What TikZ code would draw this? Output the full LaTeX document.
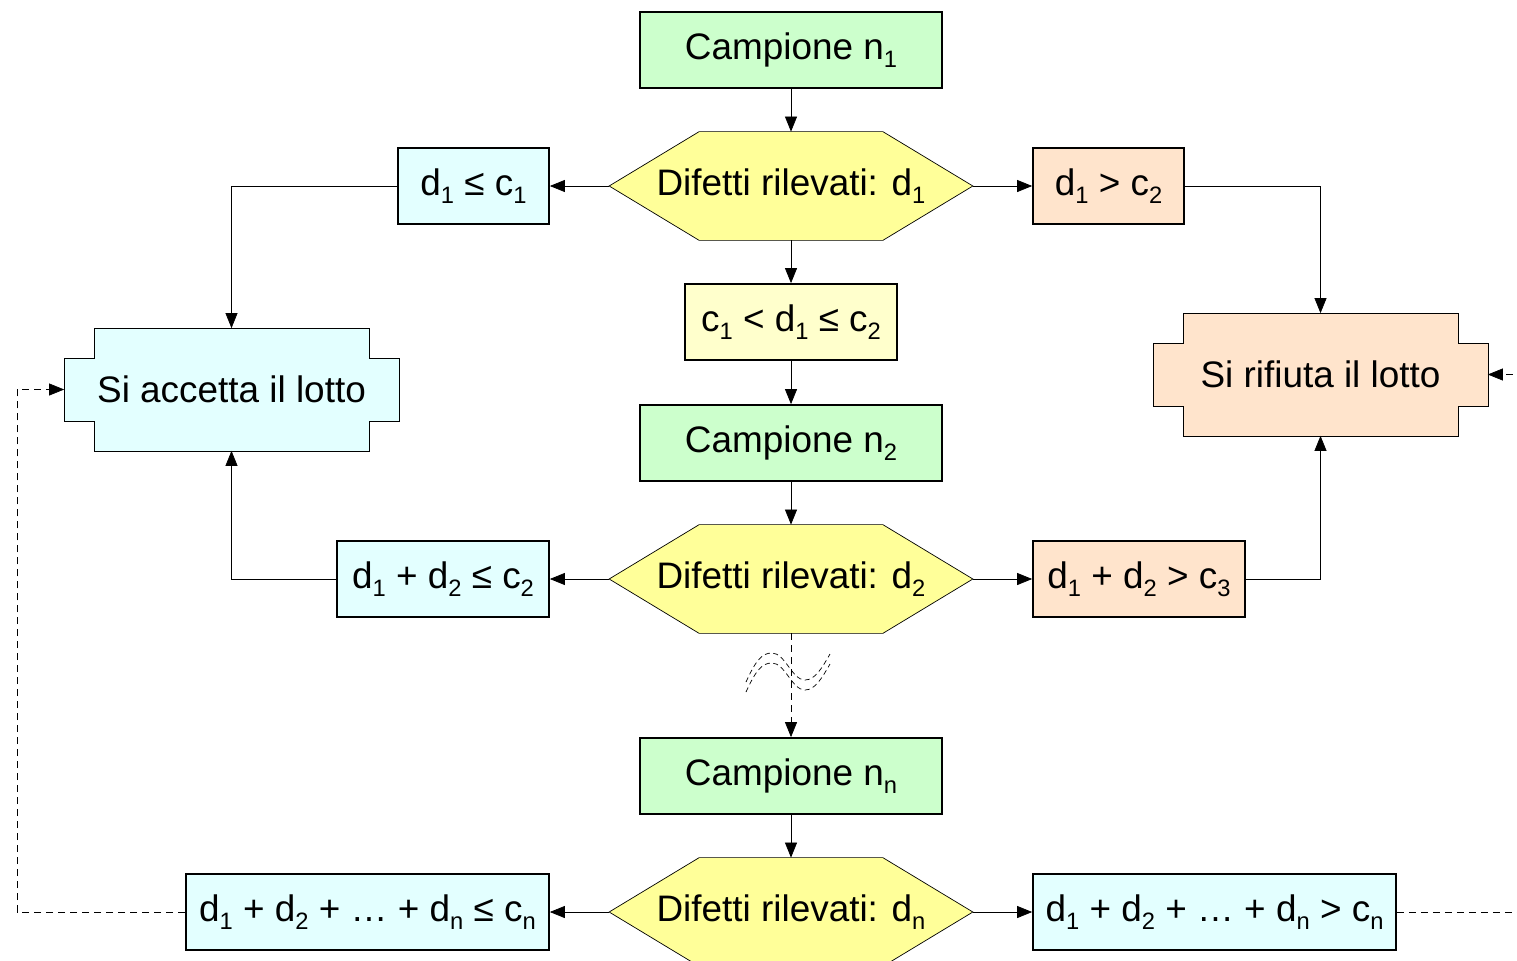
\documentclass[tikz,border=0pt]{standalone}
\usepackage{fontspec}
\setmainfont{Liberation Sans}
\usetikzlibrary{arrows.meta}

\pgfdeclarelayer{sfondo}
\pgfsetlayers{sfondo,main}

\definecolor{verde}{HTML}{CCFFCC}
\definecolor{giallo}{HTML}{FFFF99}
\definecolor{giallino}{HTML}{FFFFCC}
\definecolor{azzurro}{HTML}{E3FFFF}
\definecolor{pesca}{HTML}{FFE4CC}

\newcommand{\ped}[1]{\raisebox{-4.5pt}{\fontsize{13.5}{14}\selectfont #1}}
\newcommand{\esagono}[1]{\draw[fill=giallo] (#1.west) -- ([xshift=1.8cm]#1.north west) -- ([xshift=-1.8cm]#1.north east) -- (#1.east) -- ([xshift=-1.8cm]#1.south east) -- ([xshift=1.8cm]#1.south west) -- cycle;}
\newcommand{\esito}[2]{\draw[fill=#2] ([xshift=0.6cm]#1.north west) -- ([xshift=-0.6cm]#1.north east) -- ([xshift=-0.6cm,yshift=-0.6cm]#1.north east) -- ([yshift=-0.6cm]#1.north east) -- ([yshift=0.6cm]#1.south east) -- ([xshift=-0.6cm,yshift=0.6cm]#1.south east) -- ([xshift=-0.6cm]#1.south east) -- ([xshift=0.6cm]#1.south west) -- ([xshift=0.6cm,yshift=0.6cm]#1.south west) -- ([yshift=0.6cm]#1.south west) -- ([yshift=-0.6cm]#1.north west) -- ([xshift=0.6cm,yshift=-0.6cm]#1.north west) -- cycle;}

\tikzset{
  box/.style={draw, minimum height=1.52cm, inner sep=0pt},
  campione/.style={box, fill=verde, minimum width=6.04cm},
  hexa/.style={minimum width=7.24cm, minimum height=2.14cm, inner sep=0pt},
  lotto/.style={minimum width=6.66cm, minimum height=2.42cm, inner sep=0pt},
  freccia/.style={-{Triangle[length=0.3cm,width=0.24cm]}},
  tratteggio/.style={dash pattern=on 0.14cm off 0.1cm},
}

\begin{document}
\begin{tikzpicture}[x=0.02cm, y=-0.02cm, line width=1pt, font=\fontsize{21}{25}\selectfont]
    \useasboundingbox (0,0) rectangle (1517,960);

    \node[campione] (n1) at (791,50) {Campione n\ped{1}};
    \node[hexa] (h1) at (791,186) {Difetti rilevati: d\ped{1}};
    \node[box, fill=azzurro, minimum width=3.02cm] (a1) at (473.5,186) {d\ped{1} ≤ c\ped{1}};
    \node[box, fill=pesca, minimum width=3.02cm] (r1) at (1108.5,186) {d\ped{1} > c\ped{2}};
    \node[box, fill=giallino, minimum width=4.24cm] (c1) at (791,322) {c\ped{1} < d\ped{1} ≤ c\ped{2}};
    \node[campione] (n2) at (791,443) {Campione n\ped{2}};
    \node[hexa] (h2) at (791,579) {Difetti rilevati: d\ped{2}};
    \node[box, fill=azzurro, minimum width=4.24cm] (a2) at (443,579) {d\ped{1} + d\ped{2} ≤ c\ped{2}};
    \node[box, fill=pesca, minimum width=4.24cm] (r2) at (1139,579) {d\ped{1} + d\ped{2} > c\ped{3}};
    \node[campione] (nn) at (791,776) {Campione n\ped{n}};
    \node[hexa] (hn) at (791,912) {Difetti rilevati: d\ped{n}};
    \node[box, fill=azzurro, minimum width=7.26cm] (an) at (367.5,912) {d\ped{1} + d\ped{2} + … + d\ped{n} ≤ c\ped{n}};
    \node[box, fill=azzurro, minimum width=7.26cm] (rn) at (1214.5,912) {d\ped{1} + d\ped{2} + … + d\ped{n} > c\ped{n}};
    \node[lotto] (acc) at (231.5,389.5) {Si accetta il lotto};
    \node[lotto] (rif) at (1320.5,374.5) {Si rifiuta il lotto};

    \begin{pgfonlayer}{sfondo}
      \esagono{h1} \esagono{h2} \esagono{hn}
      \esito{acc}{azzurro} \esito{rif}{pesca}
    \end{pgfonlayer}

    \draw[freccia] (n1) -- (h1);
    \draw[freccia] (h1) -- (a1);
    \draw[freccia] (h1) -- (r1);
    \draw[freccia] (h1) -- (c1);
    \draw[freccia] (c1) -- (n2);
    \draw[freccia] (a1) -| (acc);
    \draw[freccia] (r1) -| (rif);
    \draw[freccia] (n2) -- (h2);
    \draw[freccia] (h2) -- (a2);
    \draw[freccia] (h2) -- (r2);
    \draw[freccia] (a2) -| (acc);
    \draw[freccia] (r2) -| (rif);
    \draw[freccia, tratteggio] (h2) -- (nn);
    \draw[freccia] (nn) -- (hn);
    \draw[freccia] (hn) -- (an);
    \draw[freccia] (hn) -- (rn);

    \coordinate (sx) at (17,912);
    \coordinate (dx) at (1540,912);
    \draw[freccia, tratteggio] (an) -- (sx) |- (acc);
    \draw[freccia, tratteggio] (rn) -- (dx) |- (rif);

    \draw[dash pattern=on 0.1cm off 0.07cm] (746,692) .. controls (756,670) and (762,663) .. (772,663) .. controls (785,663) and (792,690) .. (805,690) .. controls (815,690) and (822,678) .. (830,664);
    \draw[dash pattern=on 0.1cm off 0.07cm, yshift=0.2cm] (746,692) .. controls (756,670) and (762,663) .. (772,663) .. controls (785,663) and (792,690) .. (805,690) .. controls (815,690) and (822,678) .. (830,664);
\end{tikzpicture}
\end{document}
